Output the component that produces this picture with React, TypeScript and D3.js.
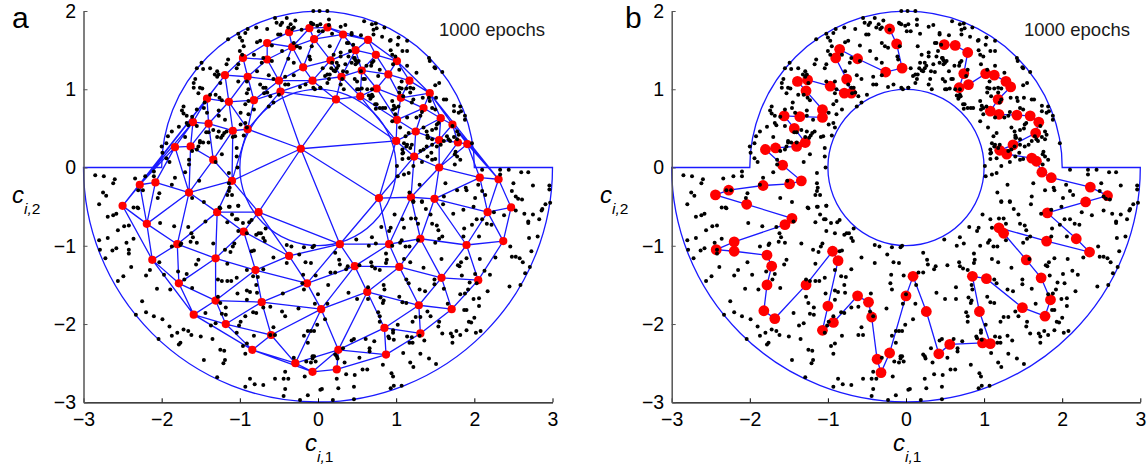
import React, { useEffect, useRef } from 'react';
import * as d3 from 'd3';

const W = 1147;
const H = 468;

const xTicks = [-3, -2, -1, 0, 1, 2, 3];
const yTicks = [-3, -2, -1, 0, 1, 2];
const epochsLabel = '1000 epochs';

// training samples, same cloud in both panels
const samples: [number, number][] = [
  [-.06,2.0],[.02,2.0],[.12,2.0],[-.4,1.91],[-.55,1.91],[-.29,1.88],[-.53,1.85],[-.46,1.85],[-.35,1.83],[-.48,1.82],
  [-.38,1.79],[-.31,1.79],[-.65,1.77],[-.79,1.79],[-.9,1.77],[-1.02,1.71],[-.93,1.72],[-.51,1.7],[-.48,1.7],[-.33,1.77],
  [-.06,1.83],[-.09,1.85],[.03,1.83],[-.21,1.76],[.01,1.74],[-1.0,1.66],[-1.15,1.64],[-.97,1.62],[-.78,1.6],[-.74,1.62],
  [-.95,1.55],[-.59,1.56],[-.31,1.59],[-.27,1.55],[-.23,1.53],[-.08,1.55],[-.46,1.49],[-1.0,1.49],[-.82,1.44],[-.97,1.44],
  [-1.15,1.38],[-.7,1.4],[-.72,1.34],[-.59,1.36],[-.38,1.39],[-.31,1.34],[-.11,1.42],[-.1,1.38],[-1.02,1.32],[-1.04,1.27],
  [-1.17,1.32],[-1.38,1.27],[-1.47,1.26],[-1.55,1.27],[-1.49,1.34],[-1.29,1.23],[-1.32,1.19],[-1.27,1.19],[-1.29,1.16],[-1.57,1.13],
  [-1.59,1.08],[-2.0,.27],[-1.99,.19],[-1.94,.31],[-1.92,.4],[-1.87,.46],[-1.78,.52],[-1.7,.39],[-1.66,.54],[-1.55,.53],
  [-1.94,.12],[-1.9,.07],[-1.53,.27],[-1.61,.21],[-1.55,.23],[-1.51,.34],[-1.7,-.06],[-2.1,-.05],[-2.21,-.11],[-2.1,-.11],
  [-2.34,-.14],[-2.6,-.15],[-2.62,-.2],[-2.74,-.11],[-2.85,-.1],[-2.75,-.32],[-2.71,-.36],[-2.8,-.47],[-2.3,-.29],[-2.24,-.29],
  [-2.03,-.33],[-2.05,-.39],[-2.3,-.52],[-1.87,-.22],[-1.83,-.13],[-1.61,-.39],[-1.46,-.44],[-1.52,-.17],[-1.31,.07],[-1.23,.17],
  [-1.04,.25],[-.95,.41],[-1.06,.4],[-1.09,.39],[-.93,.57],[-.91,.51],[-.99,.7],[-.89,.68],[-.82,.74],[-1.34,.48],
  [-1.27,.46],[-1.2,.44],[-1.22,.41],[-1.24,.38],[-1.29,.39],[-1.42,.7],[-1.46,.76],[-1.68,.66],[-1.61,.65],[-1.72,.78],
  [-1.74,.73],[-1.72,.69],[-1.38,.93],[-1.31,.93],[-1.26,.89],[-1.23,.86],[-1.59,1.02],[-1.51,1.02],[-1.48,1.01],[-1.53,.95],
  [-1.02,1.1],[-.91,1.1],[-1.04,.14],[-1.14,-.07],[-1.03,0],[-1.14,-.2],[-1.13,-.26],[-1.14,-.3],[-1.16,-.35],[-1.1,-.35],
  [-1.02,-.49],[-1.13,-.5],[-1.25,-.52],[-.89,.85],[-.91,.95],[-.93,.81],[-.57,.83],[-.63,.78],[-.61,.91],[-.5,.93],
  [-.42,1.06],[-.38,1.06],[-.23,1.03],[-.06,1.02],[.03,1.02],[-.16,1.06],[-.31,1.18],[-.42,1.16],[-.57,1.13],[-.63,1.18],
  [-.78,1.23],[-.7,1.02],[-.67,1.02],[-.74,1.06],[-.89,1.0],[-1.25,1.08],[-.69,.95],[-.65,.96],
  [.14,1.89],[.14,1.82],[.35,1.82],[.29,1.8],[.59,1.87],[.69,1.83],[.74,1.84],[.85,1.79],[.71,1.76],[.75,1.78],
  [.06,1.74],[.18,1.71],[-.08,1.84],[-.01,1.81],[.43,1.7],[.55,1.69],[.71,1.7],[.82,1.67],[.93,1.63],[1.03,1.66],
  [1.14,1.62],[.37,1.59],[.15,1.55],[1.02,1.57],[1.08,1.49],[1.14,1.49],[.93,1.5],[.95,1.44],[.99,1.42],[.2,1.44],
  [.29,1.47],[.29,1.42],[.39,1.42],[.46,1.4],[.48,1.37],[.5,1.34],[.48,1.32],[.18,1.34],[.24,1.34],[.17,1.27],
  [.24,1.27],[.2,1.24],[.12,1.19],[.09,1.17],[.06,1.27],[.37,1.22],[.55,1.23],[.69,1.34],[.68,1.3],[.71,1.36],
  [.31,1.13],[.5,1.1],[.58,1.13],[.6,1.13],[.12,1.08],[.14,1.13],[.29,1.06],[.33,1.0],[.5,1.0],[.56,1.01],
  [.63,1.0],[.03,1.02],[-.04,1.0],[.65,.92],[.68,.9],[.69,.93],[.67,.88],[.73,.81],[.74,.75],[.83,.76],
  [.95,.85],[.97,.79],[.99,.76],[.95,.59],[1.05,.51],[1.04,1.02],[1.07,1.01],[1.13,1.01],[1.22,1.01],[1.18,.96],
  [1.04,.96],[1.42,1.4],[1.49,1.28],[1.43,1.36],[1.59,1.22],[1.55,1.08],[1.5,1.05],[1.34,.89],[1.42,.89],[1.51,.89],
  [1.61,.87],[1.64,.87],[1.43,.85],[1.22,.87],[1.33,.71],[1.46,.76],[1.74,.79],[1.82,.78],[1.74,.72],[1.8,.7],
  [1.83,.72],[1.88,.66],[1.88,.61],[1.52,.55],[1.46,.48],[1.4,.41],[1.51,.5],[1.35,.51],[1.16,.44],[1.12,.4],
  [1.1,.31],[1.13,.27],[1.2,.29],[1.46,.36],[1.57,.29],[1.61,.34],[1.52,.27],[1.4,.38],[1.74,.39],[1.78,.46],
  [1.8,.42],[1.67,.36],[1.78,.36],[1.72,.53],[1.97,.31],[1.76,.2],[1.08,.18],[1.08,.23],[1.08,.11],[1.22,.02],
  [1.33,.07],[1.4,.14],[1.45,.19],[1.16,-.07],[1.1,-.09],[1.01,.02],[1.02,-.11],[1.63,-.2],[1.3,-.22],[1.17,-.32],
  [1.22,-.43],[1.33,-.43],[1.61,-.37],[1.78,-.29],[1.89,-.26],[1.9,-.29],[2.05,-.22],[2.1,-.3],[2.14,-.35],[2.01,-.39],
  [2.33,-.03],[2.33,-.09],[2.44,-.03],[2.6,-.06],[2.69,-.06],[2.75,-.23],[2.5,-.2],[2.48,-.3],[2.53,-.37],[2.56,-.4],
  [2.61,-.41],[2.96,-.23],[2.96,-.28],[2.87,-.53],[2.97,-.45],[2.1,-.03],
  [-2.69,-.63],[-2.62,-.61],[-2.58,-.59],[-2.48,-.75],[-2.42,-.74],[-2.56,-.8],[-2.36,-.91],[-2.8,-.93],[-2.69,-.9],[-2.63,-1.06],
  [-2.58,-1.03],[-2.72,-1.16],[-2.79,-1.05],[-2.45,-.96],[-2.42,-1.05],[-2.42,-1.1],[-2.39,-1.27],[-2.15,-1.31],[-2.2,-1.38],[-2.49,-1.39],
  [-2.56,-1.45],[-2.06,-1.55],[-1.89,-1.56],[-2.03,-1.21],[-1.97,-1.37],[-2.25,-1.71],[-2.33,-1.88],[-2.2,-1.85],[-2.1,-1.9],[-1.99,-1.94],
  [-1.9,-2.03],[-2.04,-2.19],[-1.87,-2.15],[-1.8,-2.11],[-1.72,-2.07],[-1.66,-2.09],[-1.62,-2.14],[-1.5,-2.16],[-1.35,-2.19],[-1.78,-2.26],
  [-1.76,-2.24],[-1.46,-2.46],[-1.29,-2.68],[-2.02,-.71],[-1.84,-.75],[-1.66,-.76],[-1.62,-.84],[-1.6,-.89],[-1.63,-.95],[-1.55,-.96],
  [-1.87,-1.01],[-1.76,-.99],[-1.75,-.97],[-1.79,-1.33],[-1.68,-1.36],[-1.71,-1.43],[-1.61,-1.54],[-1.56,-1.24],[-1.53,-1.18],[-1.44,-.69],
  [-1.34,-.97],[-1.19,-1.05],[-1.12,-1.08],[-1.16,-1.23],[-1.09,-1.01],[-1.07,-.97],[-1.28,-1.43],[-1.23,-1.45],[-1.16,-1.45],[-1.11,-1.45],
  [-1.04,-1.41],[-1.28,-1.65],[-1.25,-1.73],[-1.18,-1.79],[-1.44,-1.86],[-1.23,-1.87],[-1.18,-1.88],[-1.31,-1.99],[-1.37,-2.02],[-.96,-2.28],
  [-.91,-2.25],[-.93,-2.38],[-1.25,-2.33],[-1.2,-2.34],[-1.19,-2.46],[-1.21,-2.5],[-1.03,-1.61],[-.91,-1.57],[-.87,-1.59],[-.78,-1.6],
  [-.91,-1.69],[-.93,-1.9],[-.99,-1.97],[-.83,-1.85],[-.79,-1.86],[-.7,-1.79],[-.61,-1.78],[-1.01,-2.02],[-1.04,-2.11],[-.82,-2.15],
  [-.61,-2.14],[-.55,-2.14],[-.57,-2.04],[-.46,-1.84],[-.42,-1.9],[-.25,-1.8],[-.45,-1.61],[-.7,-1.3],[-.83,-1.39],[-.77,-1.4],
  [-.91,-1.31],[-.79,-1.5],[-.85,-1.07],[-.82,-1.06],[-.57,-1.15],[-.4,-.99],[-.34,-1.01],[-.4,-1.22],[-.24,-1.11],[-.18,-1.02],
  [-.16,-1.21],[-.09,-1.22],[-.19,-1.37],[-.2,-1.48],[-.18,-1.56],[0,-1.62],[-.07,-1.02],[-.67,-.78],[-.79,-.86],[-.76,-.84],
  [-.73,-.84],[-.7,-.9],[-.68,-.94],[-.91,-.84],[-1.02,-.81],[-.96,-.71],[-.88,-.7],[-.85,-.67],[-1.16,-.7],[-1.05,-.66],
  [-1.1,-.6],[-1.03,-.66],[-1.14,-.5],[-1.02,-.49],[-1.26,-.51],[-2.36,-.51],[-2.31,-.51],[-.13,-2.24],[-.18,-2.15],[-.09,-2.09],
  [-.13,-2.09],[-.07,-2.41],[-.15,-2.48],[-.09,-2.49],[-.07,-2.44],[-.31,-2.43],[-.42,-2.61],[-.44,-2.7],[-.38,-2.7],[-.42,-2.83],
  [-.55,-2.7],[-.7,-2.78],[-.81,-2.77],[-.87,-2.7],[-.93,-2.8],[-.44,-2.92],[-.23,-2.97],[-.13,-2.91],[-.17,-2.67],[.03,-2.84],
  [1.22,-.44],[1.33,-.44],[1.6,-.47],[1.38,-.53],[1.44,-.6],[.98,-.6],[1.73,-.59],[1.86,-.54],[1.99,-.5],[2.25,-.57],
  [2.38,-.61],[2.53,-.55],[2.64,-.59],[2.75,-.6],[2.86,-.55],[2.91,-.47],[2.69,-.69],[2.69,-.71],[2.83,-.66],[2.03,-.66],
  [2.1,-.66],[2.16,-.72],[2.22,-.73],[1.97,-.73],[1.08,-.66],[1.19,-.65],[1.25,-.65],[1.28,-.72],[1.46,-.72],[1.52,-.74],
  [1.54,-.8],[1.59,-.88],[1.5,-.96],[1.55,-.91],[1.87,-.78],[1.86,-.88],[2.06,-.88],[.93,-.77],[.91,-.81],[.81,-.76],
  [1.1,-.77],[.49,-.92],[.69,-.89],[.74,-.97],[.65,-1.0],[.95,-1.0],[1.05,-.96],[1.07,-.93],[1.12,-1.01],[1.17,-1.01],
  [1.28,-.93],[-.05,-1.0],[.22,-1.09],[.27,-1.18],[.28,-1.24],[.36,-1.3],[.38,-1.26],[.53,-1.25],[.68,-1.21],[.69,-1.26],
  [.73,-1.29],[.79,-1.31],[.87,-1.1],[.88,-1.18],[.87,-1.22],[1.1,-1.17],[1.18,-1.21],[1.35,-1.28],[1.58,-1.17],[1.81,-1.26],
  [1.79,-1.25],[1.83,-1.21],[1.9,-1.16],[2.07,-1.17],[2.27,-1.15],[2.46,-1.01],[2.48,-1.14],[2.53,-1.14],[2.58,-1.16],[2.62,-1.21],
  [2.7,-.9],[2.81,-.88],[2.73,-1.07],[2.71,-1.27],[2.65,-1.35],[2.59,-1.5],[2.45,-1.52],[2.17,-1.58],[2.13,-1.32],[2.01,-1.36],
  [2.2,-1.37],[1.84,-1.38],[1.94,-1.47],[2.03,-1.48],[1.92,-1.56],[1.88,-1.61],[1.82,-1.62],[1.99,-1.68],[2.06,-1.67],[2.06,-1.77],
  [1.87,-1.82],[1.9,-1.82],[2.0,-1.92],[1.93,-1.97],[1.96,-1.98],[1.9,-2.08],[1.77,-2.09],[1.7,-2.12],[1.72,-2.16],[1.82,-2.14],
  [1.72,-2.24],[1.59,-2.12],[2.02,-2.11],[2.08,-2.09],[1.55,-1.97],[1.54,-2.03],[1.44,-1.9],[1.4,-1.84],[1.66,-1.74],[1.31,-1.91],
  [1.25,-1.91],[1.21,-1.97],[1.49,-1.43],[1.49,-1.49],[1.61,-1.55],[1.3,-1.56],[1.37,-1.58],[1.16,-1.48],[1.13,-1.43],[1.04,-1.65],
  [1.08,-1.72],[1.13,-1.73],[.8,-1.66],[.84,-1.7],[.83,-1.73],[.85,-1.56],[.84,-1.5],[.64,-1.53],[.5,-1.68],[.64,-1.68],
  [.39,-1.6],[.77,-1.85],[.79,-1.9],[.79,-1.97],[1.02,-2.01],[.96,-2.08],[.96,-2.11],[.91,-2.18],[.97,-2.2],[1.14,-2.16],
  [1.2,-2.17],[1.17,-2.24],[1.21,-2.24],[1.3,-2.15],[1.36,-2.21],[1.09,-2.37],[1.31,-2.38],[1.42,-2.44],[1.51,-2.51],[1.18,-2.49],
  [1.22,-2.55],[.83,-2.52],[.94,-2.63],[.96,-2.67],[.97,-2.79],[.93,-2.82],[1.07,-2.79],[.46,-2.19],[.43,-2.21],[.61,-2.19],
  [.66,-2.31],[.66,-2.35],[.53,-2.43],[.57,-2.58],[.63,-2.58],[.47,-2.65],[.36,-2.64],[.24,-2.7],[.26,-2.82],[.46,-2.8],
  [.46,-2.96],[.19,-2.97],[.05,-2.83],[.24,-2.41],[.22,-2.39],[.25,-2.44],[.34,-2.49],[.32,-2.31],[.09,-1.94],[-.01,-2.01],
  [-.05,-2.09],[.13,-1.5],[.12,-1.74],[-.04,-1.74],[-.05,-2.41],[-.03,-2.48],[.22,-1.34],[-.03,-1.38],[.16,-1.34],[.72,-2.22],
  [.9,-2.16],
  [-1.51,.32],[-1.47,.32],[-1.4,.32],[-1.65,.04],[-1.65,.1],[-1.27,.66],[-1.19,.61],[-.99,.55],[-1.27,.73],[-1.17,.46],
  [-1.4,.45],[-1.43,.45],[-1.45,.83],[-1.55,.74],[-1.68,.57],[.96,.74],[1.03,.78],[.99,.68],[.79,.76],[.86,.76],
  [.75,.81],[1.18,1.02],[1.09,.91],[1.2,.83],[1.26,.64],[1.31,.66],[1.14,.64],[1.54,.57],[1.5,.74],[1.39,.46],
  [1.41,.38],[1.46,.29],[1.39,.27],[1.35,.23],[1.14,.29],[1.18,.25],[1.09,.19],[1.16,.12],[1.31,.21],[1.46,.1],
  [1.5,.11],[1.75,.04],[1.75,.17],[1.82,.1],[1.78,.14],[1.65,.4],[1.69,.34],[.43,1.72],[.45,1.57],[.39,1.59],
  [.41,1.49],[.47,1.4],[.52,1.36],[.43,1.34],[.35,1.32],[.15,1.19],[.22,1.23],[.26,1.3],[.32,1.23],[.62,1.3],
  [.79,1.25],[.77,1.17],[.47,1.13],[.52,1.0],[.69,1.0],[.7,.91],[.92,1.62],[.96,1.32],[1.04,1.25],[1.14,1.3],
  [1.07,1.1],[1.26,1.21],[1.5,1.27],
];

// panel a: map units after 1000 epochs, the mesh is their triangulation
const nodesA: [number, number][] = [
  [-.11,1.78],[-.05,1.64],[-.37,1.73],[-.65,1.59],[-.33,1.54],[-.96,1.4],[-.65,1.38],[-.19,1.28],[-1.19,1.18],[-.9,1.16],
  [-.5,1.11],[-.07,1.11],[-.48,.97],[-1.42,.88],[-1.14,.84],[-.82,.86],[-1.6,.58],[-1.4,.56],[-1.09,.47],[-.9,.49],
  [-.22,.24],[-1.83,.26],[-1.63,.27],[-1.34,.1],[-1.1,-.17],[-2.08,-.19],[-2.28,-.22],[-1.65,-.32],[-2.5,-.49],[-1.29,-.57],
  [-.76,-.57],[-2.19,-.72],[-.95,-.82],[-1.8,-.98],[-.37,-1.13],[-2.12,-1.18],[-1.31,-1.16],[-.8,-1.31],[-1.78,-1.48],[-.14,-1.48],
  [-1.31,-1.7],[-.72,-1.72],[.04,-1.81],[-1.59,-1.88],[-1.18,-2.0],[-.6,-2.14],[-.84,-2.33],[-.29,-2.5],[-.07,-2.61],
  [.12,1.79],[.32,1.7],[.64,1.63],[.48,1.5],[.74,1.44],[1.01,1.36],[.16,1.37],[.56,1.24],[.9,1.19],[.3,1.16],
  [1.17,1.11],[.75,1.01],[1.43,.95],[1.06,.89],[.54,.91],[.23,.87],[1.35,.76],[1.57,.63],[1.01,.61],[1.72,.55],
  [1.25,.46],[1.0,.34],[1.55,.35],[1.79,.32],[1.91,.3],[1.23,.14],[1.55,0],[2.07,-.13],[2.31,-.15],[.78,-.39],
  [1.19,-.38],[1.49,-.4],[2.47,-.51],[2.17,-.57],[2.37,-.94],[1.9,-.99],[1.31,-.91],[.91,-.98],[.28,-.98],[.47,-1.26],
  [1.04,-1.27],[1.58,-1.41],[2.05,-1.44],[.63,-1.59],[1.29,-1.76],[1.71,-1.81],[.85,-2.05],[1.31,-2.12],[.26,-2.33],[.87,-2.39],
  [.24,-2.58],
];

// panel b: map units, one long chain in order
const chainB: [number, number][] = [
  [-.21,1.77],[-.12,1.58],[-.05,1.27],[-.26,1.22],[-.62,1.39],[-.85,1.51],[-.9,1.4],[-.76,1.13],[-.7,.95],[-.79,.95],
  [-.97,1.04],[-1.26,1.12],[-1.39,1.1],[-1.28,.98],[-1.07,.74],[-1.07,.64],[-1.36,.65],[-1.56,.66],[-1.43,.5],[-1.29,.32],
  [-1.4,.27],[-1.67,.25],[-1.8,.23],[-1.58,.03],[-1.34,-.17],[-1.49,-.21],[-1.83,-.23],[-2.27,-.29],[-2.44,-.35],[-2.04,-.47],
  [-1.46,-.65],[-1.55,-.73],[-2.2,-.95],[-2.43,-1.05],[-2.2,-1.07],[-1.78,-1.12],[-1.72,-1.26],[-1.78,-1.5],[-1.82,-1.83],[-1.68,-1.93],
  [-1.28,-1.5],[-.94,-1.07],[-.87,-1.19],[-1.0,-1.77],[-1.07,-2.08],[-.93,-1.98],[-.62,-1.64],[-.48,-1.72],[-.44,-1.91],[-.37,-2.45],
  [-.32,-2.62],[-.21,-2.37],[0,-1.64],[.09,-1.39],[.26,-1.84],[.42,-2.38],[.56,-2.26],[.98,-2.24],[1.08,-2.25],[.94,-1.84],
  [.85,-1.39],[1.03,-1.42],[1.49,-1.79],[1.78,-1.9],[1.85,-1.69],[1.73,-1.41],[1.54,-1.18],[1.25,-.84],[1.19,-.77],[1.8,-.94],
  [2.35,-1.08],[2.18,-.91],[1.81,-.58],[2.3,-.44],[2.58,-.36],[2.36,-.25],[1.86,-.13],[1.74,-.06],[1.67,.08],[1.61,.12],
  [1.29,.17],[1.2,.22],[1.37,.29],[1.66,.44],[1.7,.58],[1.59,.66],[1.42,.67],[1.19,.68],[1.08,.72],[1.18,.87],
  [1.34,1.03],[1.28,1.1],[1.13,1.18],[1.02,1.2],[.8,1.06],[.68,1.02],[.74,1.2],[.79,1.47],[.63,1.56],[.49,1.57],
];

const BLUE = '#1a1aff';
const RED = '#ff0000';
const FONT = '"Liberation Sans", Arial, sans-serif';

type Panel = {
  letter: string;
  letterX: number;
  left: number;
  right: number;
  epochsX: number;
  yLabelX: number;
  nodeR: number;
  mesh: boolean;
  nodes: [number, number][];
};

const panels: Panel[] = [
  { letter: 'a', letterX: 12, left: 83.5, right: 552.5, epochsX: 439, yLabelX: 12, nodeR: 4.1, mesh: true, nodes: nodesA },
  { letter: 'b', letterX: 625, left: 671.7, right: 1140.3, epochsX: 1024, yLabelX: 600, nodeR: 5.4, mesh: false, nodes: chainB },
];

const App = () => {
  const svgRef = useRef<SVGSVGElement>(null);

  useEffect(() => {
    const svg = d3.select(svgRef.current);
    svg.selectAll('*').remove();

    panels.forEach(p => {
      const x = d3.scaleLinear().domain([-3, 3]).range([p.left, p.right]);
      const y = d3.scaleLinear().domain([-3, 2]).range([402.3, 11]);
      const g = svg.append('g');
      const r = x(1) - x(0);

      // map outline: half ring with the two shoulders, then the hole
      const outline = d3.path();
      outline.moveTo(x(-3), y(0));
      outline.lineTo(x(-2), y(0));
      outline.arc(x(0), y(0), 2 * r, Math.PI, 2 * Math.PI);
      outline.lineTo(x(3), y(0));
      outline.arc(x(0), y(0), 3 * r, 0, Math.PI);
      outline.closePath();
      outline.moveTo(x(1), y(0));
      outline.arc(x(0), y(0), r, 0, 2 * Math.PI);
      g.append('path').attr('d', outline.toString())
        .attr('fill', 'none').attr('stroke', BLUE).attr('stroke-width', 1.3);

      if (p.mesh) {
        const tri = d3.Delaunay.from(p.nodes, d => x(d[0]), d => y(d[1]));
        g.append('path').attr('d', tri.render())
          .attr('fill', 'none').attr('stroke', BLUE).attr('stroke-width', 1.3);
      } else {
        const line = d3.line<[number, number]>().x(d => x(d[0])).y(d => y(d[1]));
        g.append('path').attr('d', line(p.nodes))
          .attr('fill', 'none').attr('stroke', BLUE).attr('stroke-width', 1.3);
      }

      g.append('g').selectAll('circle').data(p.nodes).join('circle')
        .attr('cx', d => x(d[0])).attr('cy', d => y(d[1]))
        .attr('r', p.nodeR).attr('fill', RED);

      g.append('g').selectAll('circle').data(samples).join('circle')
        .attr('cx', d => x(d[0])).attr('cy', d => y(d[1]))
        .attr('r', 2).attr('fill', '#000');

      const xAxis = g.append('g').attr('transform', 'translate(0,402.3)')
        .call(d3.axisBottom(x).tickValues(xTicks).tickFormat(d3.format('d')).tickSizeInner(-4).tickSizeOuter(0).tickPadding(9.5));
      const yAxis = g.append('g').attr('transform', `translate(${p.left},0)`)
        .call(d3.axisLeft(y).tickValues(yTicks).tickFormat(d3.format('d')).tickSizeInner(-4).tickSizeOuter(0).tickPadding(7.5));
      [xAxis, yAxis].forEach(a => {
        a.attr('font-family', FONT).attr('font-size', 19.5).attr('color', '#000');
        a.selectAll('.tick line').attr('stroke-width', 1);
      });
      xAxis.select('.domain').attr('stroke-width', 1.3);
      yAxis.select('.domain').attr('stroke-width', 1.5).attr('stroke', '#555');
      yAxis.selectAll('.tick line').attr('stroke', '#555');

      g.append('text').attr('x', p.letterX).attr('y', 28)
        .attr('font-family', FONT).attr('font-size', 30).text(p.letter);

      g.append('text').attr('x', p.epochsX).attr('y', 36)
        .attr('font-family', FONT).attr('font-size', 18.5).attr('fill', '#1a1a1a').text(epochsLabel);

      const label = (tx: number, ty: number, sub: string) => {
        const t = g.append('text').attr('x', tx).attr('y', ty).attr('font-family', FONT);
        t.append('tspan').attr('font-size', 24).attr('font-style', 'italic').text('c');
        t.append('tspan').attr('font-size', 15.5).attr('dy', 10.7).attr('font-style', 'italic').text('i,');
        t.append('tspan').attr('font-size', 15.5).text(sub);
      };
      label(x(0) - 13, 451, '1');
      label(p.yLabelX, 203, '2');
    });
  }, []);

  return (
    <svg ref={svgRef} width={W} height={H} viewBox={`0 0 ${W} ${H}`}
      style={{ position: 'absolute', left: 0, top: 0 }} />
  );
};

export default App;
